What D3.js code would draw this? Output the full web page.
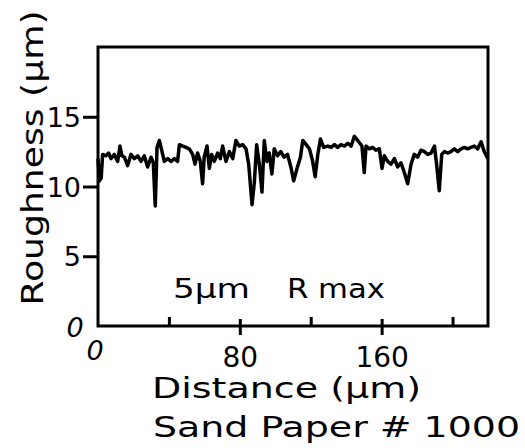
<!DOCTYPE html>
<html>
<head>
<meta charset="utf-8">
<script src="https://cdn.jsdelivr.net/npm/d3@7"></script>
<style>
  body { margin: 0; background: #fff; }
  text { font-family: "DejaVu Sans", sans-serif; fill: #000; }
</style>
</head>
<body>
<svg id="chart" width="525" height="448"></svg>
<script>
// profile (distance in um, roughness in um)
let distance = [0, 0.8, 1.8, 2.6, 4.5, 6.0, 7.3, 9.2, 11.1, 12.4, 13.5, 14.9, 16.7, 18.6, 20.5, 22.4, 24.3, 26.1, 28.0,
  29.9, 31.2, 32.3, 33.3, 34.6, 36.5, 37.4, 39.3, 41.2, 43.1, 44.9, 45.9, 47.8, 49.6, 51.5, 53.4, 54.7, 56.2, 57.7,
  59.0, 59.9, 61.5, 62.8, 64.1, 65.6, 67.5, 69.0, 70.3, 72.2, 74.1, 76.0, 77.8, 79.7, 81.6, 83.5, 85.0, 86.9, 88.2,
  89.5, 91.0, 92.5, 93.8, 95.3, 96.6, 98.1, 99.4, 101.3, 103.1, 105.0, 106.9, 108.8, 110.4, 112.3, 114.2, 115.5,
  117.4, 119.3, 121.1, 122.5, 124.0, 125.5, 127.3, 129.6, 131.5, 133.4, 135.2, 137.1, 139.0, 140.9, 142.8, 144.6,
  146.5, 148.9, 150.2, 151.2, 153.1, 154.9, 156.8, 158.7, 160.2, 161.5, 163.4, 165.3, 167.2, 169.0, 170.9, 172.8,
  174.7, 176.6, 178.4, 180.3, 182.2, 184.1, 186.0, 187.9, 189.8, 191.0, 192.5, 193.9, 195.4, 197.2, 199.1, 201.0,
  202.9, 204.8, 206.7, 208.5, 210.4, 212.3, 214.2, 216.1, 217.9, 219.5, 220];
let roughness = [12.0, 10.4, 10.6, 12.3, 12.2, 12.4, 12.0, 12.3, 11.8, 12.9, 12.2, 12.1, 11.5, 12.3, 12.0, 12.2, 11.8, 12.2, 11.4,
  12.1, 11.7, 8.6, 12.8, 13.3, 12.3, 11.8, 12.0, 11.8, 12.0, 11.8, 13.0, 12.9, 12.8, 12.7, 12.3, 11.6, 12.4, 11.8,
  10.2, 12.1, 12.9, 11.3, 12.3, 11.8, 12.4, 12.0, 12.9, 11.8, 12.5, 12.0, 13.3, 12.9, 13.0, 12.7, 11.6, 8.7, 10.3,
  13.0, 11.6, 9.6, 13.3, 11.8, 12.4, 10.9, 12.7, 12.2, 12.5, 12.1, 12.3, 11.4, 10.4, 11.3, 12.1, 13.3,
  13.0, 12.7, 11.8, 10.7, 12.3, 13.4, 12.8, 12.9, 12.8, 13.0, 12.8, 13.0, 12.9, 13.1, 12.9, 13.6,
  13.3, 12.9, 11.0, 12.9, 12.7, 12.8, 12.6, 12.7, 11.3, 12.2, 11.8, 11.6, 12.0, 11.4, 11.7, 11.0,
  10.2, 11.6, 12.3, 12.1, 12.6, 12.5, 12.3, 12.4, 12.9, 11.6, 9.7, 12.3, 12.5, 12.4, 12.5, 12.7,
  12.5, 12.7, 12.8, 12.7, 12.8, 12.9, 12.7, 13.2, 12.5, 12.1, 12.0];
let yTicks = [5, 10, 15];
let xMajorTicks = [80, 160];
let xMinorTicks = [40, 120, 200];

let svg = d3.select('#chart');
let plotLeft = 98, plotRight = 488, plotTop = 47, plotBottom = 326;

let x = d3.scaleLinear().domain([0, 220]).range([plotLeft, plotRight]);
let y = d3.scaleLinear().domain([0, 20]).range([plotBottom, plotTop]);

// y axis, ticks pointing out
let yAxis = svg.append('g')
  .attr('transform', 'translate(' + plotLeft + ',0)')
  .call(d3.axisLeft(y).tickValues(yTicks).tickSize(15).tickPadding(2));
yAxis.select('.domain').remove();
yAxis.selectAll('line').attr('stroke-width', 3);
yAxis.selectAll('text').style('font-size', '27px').attr('dy', '0.36em');

// minor x ticks, inside only
let xMinor = svg.append('g')
  .attr('transform', 'translate(0,' + plotBottom + ')')
  .call(d3.axisBottom(x).tickValues(xMinorTicks).tickSize(-9).tickFormat(''));
xMinor.select('.domain').remove();
xMinor.selectAll('line').attr('stroke-width', 3);

// major x ticks cross the axis
let xMajor = svg.append('g')
  .attr('transform', 'translate(0,' + plotBottom + ')')
  .call(d3.axisBottom(x).tickValues(xMajorTicks).tickSize(9).tickPadding(12));
xMajor.select('.domain').remove();
xMajor.selectAll('line').attr('y1', -7).attr('stroke-width', 3);
xMajor.selectAll('text').style('font-size', '28px').attr('dy', '0.71em');

// zero labels
svg.append('text').attr('x', 75).attr('y', 337).attr('text-anchor', 'middle')
  .style('font-size', '27px').style('font-style', 'italic').text('0');
svg.append('text').attr('x', 95).attr('y', 360).attr('text-anchor', 'middle')
  .style('font-size', '27px').style('font-style', 'italic').text('0');

// frame
svg.append('rect')
  .attr('x', plotLeft).attr('y', plotTop)
  .attr('width', plotRight - plotLeft).attr('height', plotBottom - plotTop)
  .attr('fill', 'none').attr('stroke', '#000').attr('stroke-width', 3);

// trace
let line = d3.line()
  .x((d, i) => x(distance[i]))
  .y(d => y(d));
svg.append('path')
  .datum(roughness)
  .attr('d', line)
  .attr('fill', 'none')
  .attr('stroke', '#000')
  .attr('stroke-width', 3.5)
  .attr('stroke-linejoin', 'round');

// labels
svg.append('text').attr('x', 173).attr('y', 298)
  .style('font-size', '27px').attr('textLength', 77).attr('lengthAdjust', 'spacingAndGlyphs')
  .text('5μm');
svg.append('text').attr('x', 287).attr('y', 298)
  .style('font-size', '27px').attr('textLength', 98).attr('lengthAdjust', 'spacingAndGlyphs')
  .text('R max');

svg.append('text')
  .attr('transform', 'translate(43,158) rotate(-90)')
  .attr('text-anchor', 'middle')
  .style('font-size', '31px').attr('textLength', 295).attr('lengthAdjust', 'spacingAndGlyphs')
  .text('Roughness (μm)');

svg.append('text').attr('x', 152).attr('y', 398)
  .style('font-size', '29px').attr('textLength', 269).attr('lengthAdjust', 'spacingAndGlyphs')
  .text('Distance (μm)');

svg.append('text').attr('x', 153).attr('y', 437)
  .style('font-size', '29px').attr('textLength', 367).attr('lengthAdjust', 'spacingAndGlyphs')
  .text('Sand Paper # 1000');
</script>
</body>
</html>
